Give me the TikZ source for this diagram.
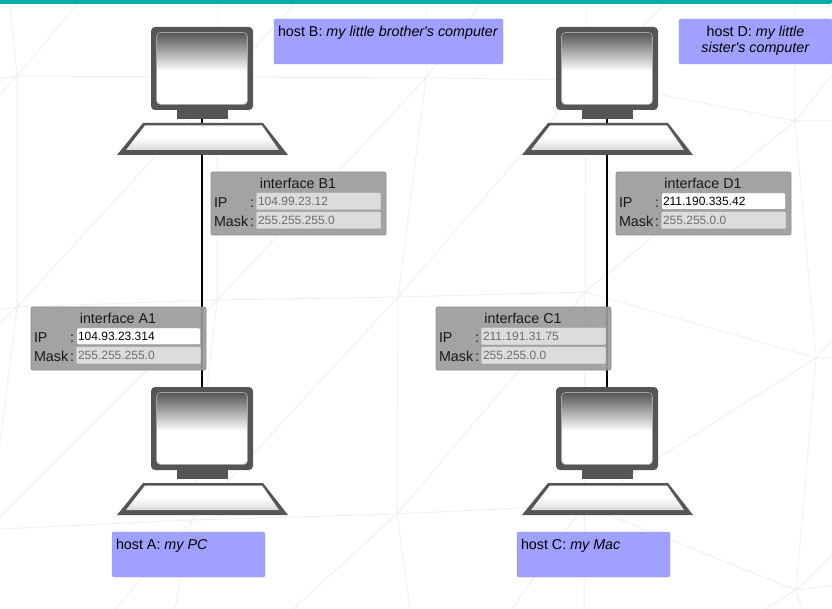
\documentclass[tikz,border=0pt]{standalone}
\usepackage{fontspec}
\setmainfont{Liberation Sans}
\usetikzlibrary{backgrounds}

\definecolor{barteal}{HTML}{00ACA6}
\definecolor{hostblue}{HTML}{A0A0FF}
\definecolor{hostedge}{HTML}{9696F5}
\definecolor{ifgrey}{HTML}{9B9B9B}
\definecolor{ifedge}{HTML}{8F8F8F}
\definecolor{pcgrey}{HTML}{555555}
\definecolor{offgrey}{HTML}{DCDCDC}
\definecolor{offtext}{HTML}{6D6D6D}
\definecolor{meshgrey}{HTML}{F0F0F0}

% tikz fits the bounding box of a path to 25bp..75bp of a shading
\pgfdeclareverticalshading{screenshade}{100bp}{color(0bp)=(white); color(48bp)=(white); color(75bp)=(pcgrey); color(100bp)=(pcgrey)}
\pgfdeclareverticalshading{keyshade}{100bp}{color(0bp)=(black!16); color(27bp)=(black!14); color(50bp)=(white); color(100bp)=(white)}

\tikzset{
    box/.style={rectangle, anchor=north west, inner sep=0pt, outer sep=0pt},
    monitor/.style={box, fill=pcgrey, rounded corners=4pt, minimum width=102pt, minimum height=83pt},
    screen/.style={box, shading=screenshade, draw=black!35, line width=0.6pt, rounded corners=4pt, minimum width=91pt, minimum height=72pt},
    stand/.style={box, fill=pcgrey, minimum width=51pt, minimum height=9pt},
    hostbox/.style={box, fill=hostblue, draw=hostedge, rounded corners=2pt, minimum height=45pt, font=\fontsize{14.3}{16}\selectfont},
    ifbox/.style={box, fill=ifgrey, draw=ifedge, line width=0.8pt, fill opacity=0.92, text opacity=1, rounded corners=2pt, minimum width=175pt, minimum height=63pt},
    iflabel/.style={inner sep=0pt, outer sep=0pt, anchor=base west, font=\fontsize{14.3}{16}\selectfont, text=black!90},
    ifon/.style={box, fill=white, draw=black!55, rounded corners=1pt, text=black, minimum width=124pt, minimum height=16.5pt, text width=121pt, font=\fontsize{12}{14}\selectfont, inner xsep=1.5pt},
    ifoff/.style={ifon, fill=offgrey, draw=offgrey, text=offtext},
    wire/.style={black, line width=2.6pt},
    meshline/.style={meshgrey, line width=1pt},
}

\begin{document}
\begin{tikzpicture}[x=1pt, y=-1pt]
    \useasboundingbox (0,0) rectangle (832,609);

    % the four computers
    \foreach \n/\x/\y in {A/151/387, B/151/27, C/556/387, D/556/27}{
        \begin{scope}[shift={(\x,\y)}]
            \node[monitor] (mon\n) at (0,0) {};
            \node[screen] (scr\n) at (5.5,5.5) {};
            \node[stand] (stand\n) at (26,83) {};
            \fill[pcgrey] (-34,128) -- (137,128) -- (112,96) -- (-8,96) -- cycle;
            \shade[shading=keyshade] (-25,123) -- (128,123) -- (111,98.5) -- (-6,98.5) -- cycle;
        \end{scope}
    }

    \node[hostbox, minimum width=153pt] (hostA) at (112,532) {\parbox[t][34pt][t]{145pt}{\vspace{1.5pt}host A: \textit{my PC}}};
    \node[hostbox, minimum width=229pt] (hostB) at (274,19) {\parbox[t][34pt][t]{221pt}{\vspace{1.5pt}host B: \textit{my little brother\textquotesingle s computer}}};
    \node[hostbox, minimum width=153pt] (hostC) at (517,532) {\parbox[t][34pt][t]{145pt}{\vspace{1.5pt}host C: \textit{my Mac}}};
    \node[hostbox, minimum width=153pt] (hostD) at (679,19) {\parbox[t][34pt][t]{145pt}{\vspace{1.5pt}\centering host D: \textit{my little}\\\textit{sister\textquotesingle s computer}}};

    % interfaces
    \foreach \n/\x/\y/\ip/\mask/\st in {A/31/307/104.93.23.314/255.255.255.0/ifon,
        B/211/172/104.99.23.12/255.255.255.0/ifoff,
        C/436/307/211.191.31.75/255.255.0.0/ifoff,
        D/616/172/211.190.335.42/255.255.0.0/ifon}{
        \begin{scope}[shift={(\x,\y)}]
            \node[ifbox] (if\n) at (0,0) {};
            \node[iflabel, anchor=base] (title\n) at (87,16.5) {interface \n1};
            \node[iflabel] (ip\n) at (3,35.5) {IP};
            \node[iflabel] (ipdots\n) at (39,35.5) {:};
            \node[iflabel] (mask\n) at (3,54.5) {Mask};
            \node[iflabel] (maskdots\n) at (39,54.5) {:};
            \node[\st] (ipval\n) at (45.5,21) {\ip};
            \node[ifoff] (maskval\n) at (45.5,40) {\mask};
        \end{scope}
    }

    \begin{scope}[on background layer]
        % faint mesh behind everything
        \draw[meshline] (10,4) -- (17,76) -- (0,95) (17,76) -- (77,4) (17,76) -- (0,78)
            (17,76) -- (17,307) (17,76) -- (426,78) -- (586,80) -- (795,121)
            (17,307) -- (295,4) (17,307) -- (0,322) (17,307) -- (0,443) (0,310) -- (17,307)
            -- (217,300) -- (398,297) -- (585,292) -- (816,358)
            (218,4) -- (217,300) -- (192,520) -- (175,609) (192,520) -- (115,609)
            (0,529) -- (192,520) -- (397,514) -- (584,505) -- (796,590)
            (192,520) -- (398,297) -- (586,80) -- (586,4) (586,80) -- (666,4)
            (426,4) -- (426,78) -- (481,4) (426,78) -- (398,297) -- (397,514)
            (426,78) -- (217,300) -- (0,517)
            (397,514) -- (410,609) (397,514) -- (293,609) (397,514) -- (585,292) -- (584,609)
            (584,505) -- (512,609) (584,505) -- (816,358) -- (795,121) -- (795,4)
            (795,121) -- (832,121) (795,121) -- (832,75) (795,121) -- (585,292) (586,80) -- (585,292)
            (816,358) -- (832,340) (816,358) -- (832,358) (816,358) -- (796,590)
            (796,590) -- (832,555) (796,590) -- (832,586) (796,590) -- (765,609) (796,590) -- (802,609);
        \draw[wire] (monB) -- (monA);
        \draw[wire] (monD) -- (monC);
    \end{scope}

    \fill[barteal] (0,0) -- (832,0) -- (832,2) arc[start angle=0, end angle=90, radius=2] -- (0,4) -- cycle;
\end{tikzpicture}
\end{document}
